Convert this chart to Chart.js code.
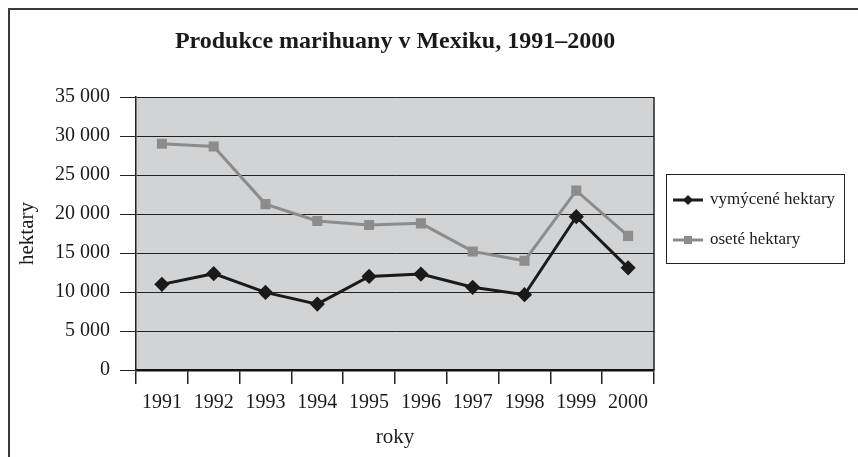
<!DOCTYPE html>
<html>
<head>
<meta charset="utf-8">
<script src="https://cdn.jsdelivr.net/npm/chart.js@4/dist/chart.umd.min.js"></script>
<style>
  body { margin: 0; background: #fff; }
  #wrap { width: 858px; height: 457px; }
</style>
</head>
<body>
<div id="wrap"><canvas id="chart"></canvas></div>
<script>
// data
const years = ['1991', '1992', '1993', '1994', '1995', '1996', '1997', '1998', '1999', '2000'];
const vymyceneHektary = [10980, 12350, 9950, 8450, 12000, 12300, 10600, 9650, 19650, 13100];
const oseteHektary = [29000, 28650, 21270, 19100, 18600, 18800, 15200, 14000, 23000, 17200];
const yMin = 0, yMax = 35000, yStep = 5000;

const FONT = "'Liberation Serif', 'DejaVu Serif', serif";

function fmt(n) {
  return String(n).replace(/\B(?=(\d{3})+(?!\d))/g, ' ');
}

// plocha grafu, rámeček, nadpis a legenda
const decor = {
  id: 'decor',
  beforeDraw(chart) {
    const c = chart.ctx, a = chart.chartArea;
    c.save();
    c.fillStyle = '#d2d3d5';
    c.fillRect(a.left, a.top, a.right - a.left, a.bottom - a.top);
    // outer frame (cut off at right and bottom)
    c.strokeStyle = '#3a3a3a';
    c.lineWidth = 2;
    c.beginPath();
    c.moveTo(9, 460);
    c.lineTo(9, 9);
    c.lineTo(860, 9);
    c.stroke();
    // title centred on the plot
    c.fillStyle = '#1a1a1a';
    c.font = 'bold 24px ' + FONT;
    c.textAlign = 'center';
    c.textBaseline = 'middle';
    c.fillText('Produkce marihuany v Mexiku, 1991–2000', (a.left + a.right) / 2, 42);
    c.restore();
  },
  afterDatasetsDraw(chart) {
    const c = chart.ctx, a = chart.chartArea;
    c.save();
    c.strokeStyle = '#222';
    c.lineWidth = 1.5;
    c.beginPath();
    c.moveTo(a.right, a.top);
    c.lineTo(a.right, a.bottom);
    c.stroke();
    c.restore();
  },
  afterDraw(chart) {
    const c = chart.ctx;
    const box = { x: 666, y: 174, w: 178, h: 89 };
    c.save();
    c.fillStyle = '#fff';
    c.fillRect(box.x, box.y, box.w, box.h);
    c.strokeStyle = '#222';
    c.lineWidth = 1;
    c.strokeRect(box.x + 0.5, box.y + 0.5, box.w, box.h);
    const rows = [200, 240];
    chart.data.datasets.forEach((ds, i) => {
      const y = rows[i];
      c.strokeStyle = ds.borderColor;
      c.lineWidth = 3;
      c.beginPath();
      c.moveTo(673, y);
      c.lineTo(703, y);
      c.stroke();
      c.fillStyle = ds.borderColor;
      if (ds.pointStyle === 'rectRot') {
        c.beginPath();
        c.moveTo(688, y - 5);
        c.lineTo(693, y);
        c.lineTo(688, y + 5);
        c.lineTo(683, y);
        c.closePath();
        c.fill();
      } else {
        c.fillRect(684, y - 4, 8, 8);
      }
      c.fillStyle = '#1a1a1a';
      c.font = '17px ' + FONT;
      c.textAlign = 'left';
      c.textBaseline = 'middle';
      c.fillText(ds.label, 710, y);
    });
    c.restore();
  }
};

const ctx = document.getElementById('chart').getContext('2d');
const chart = new Chart(ctx, {
  type: 'line',
  data: {
    labels: years,
    datasets: [
      {
        label: 'vymýcené hektary',
        data: vymyceneHektary,
        borderColor: '#1a1a1a',
        backgroundColor: '#1a1a1a',
        borderWidth: 3,
        pointStyle: 'rectRot',
        pointRadius: 5.5,
        pointHoverRadius: 5.5,
        tension: 0
      },
      {
        label: 'oseté hektary',
        data: oseteHektary,
        borderColor: '#8c8c8c',
        backgroundColor: '#8c8c8c',
        borderWidth: 3,
        pointStyle: 'rect',
        pointRadius: 5,
        pointHoverRadius: 5,
        tension: 0
      }
    ]
  },
  options: {
    responsive: true,
    maintainAspectRatio: false,
    animation: false,
    layout: { padding: { left: 10, top: 97, right: 204, bottom: 0 } },
    plugins: {
      legend: { display: false },
      title: { display: false },
      tooltip: { enabled: false }
    },
    scales: {
      x: {
        offset: true,
        afterFit(scale) { scale.height = 87; },
        grid: {
          offset: true,
          drawOnChartArea: false,
          tickLength: 14,
          color: '#222',
          lineWidth: 1.5
        },
        border: { display: true, color: '#111', width: 2.5 },
        ticks: {
          color: '#1a1a1a',
          font: { family: FONT, size: 20 },
          padding: 7,
          maxRotation: 0
        },
        title: {
          display: true,
          text: 'roky',
          color: '#1a1a1a',
          font: { family: FONT, size: 21 },
          padding: { top: 0, bottom: 7 }
        }
      },
      y: {
        min: yMin,
        max: yMax,
        afterFit(scale) { scale.width = 126; },
        grid: {
          color: '#222',
          lineWidth: 1,
          tickLength: 16
        },
        border: { display: true, color: '#222', width: 1.5 },
        ticks: {
          stepSize: yStep,
          color: '#1a1a1a',
          font: { family: FONT, size: 20 },
          padding: 10,
          callback: v => fmt(v)
        },
        title: {
          display: true,
          text: 'hektary',
          color: '#1a1a1a',
          font: { family: FONT, size: 21 },
          padding: { top: 5, bottom: 0 }
        }
      }
    }
  },
  plugins: [decor]
});
</script>
</body>
</html>
